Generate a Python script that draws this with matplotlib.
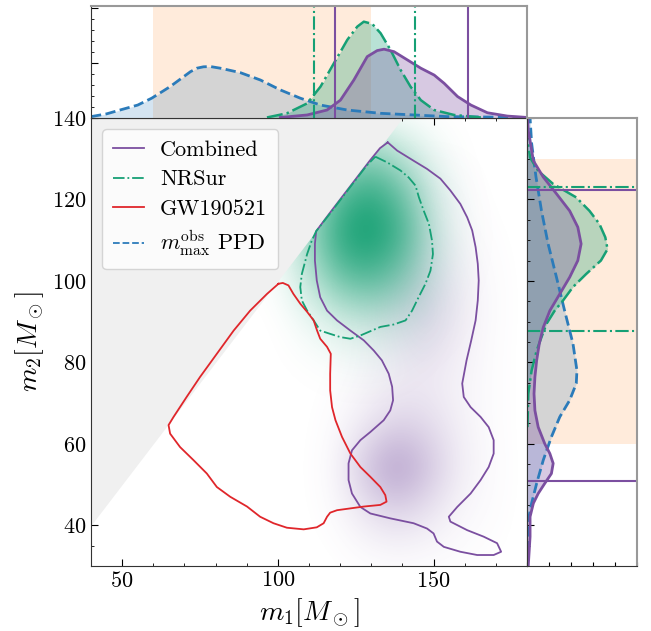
import numpy as np
import matplotlib.pyplot as plt
from matplotlib.colors import LinearSegmentedColormap, to_rgba
from matplotlib.ticker import MultipleLocator

plt.rcParams['font.family'] = 'serif'
plt.rcParams['font.serif'] = ['cmr10']
plt.rcParams['mathtext.fontset'] = 'cm'
plt.rcParams['axes.formatter.use_mathtext'] = True
plt.rcParams['axes.unicode_minus'] = False

purple = '#7b4fa0'
green = '#16a075'
green_core = '#0a9c6c'
red = '#e0262b'
blue = '#2b7bba'
orange = '#ff7f0e'

# 90% contours (m1, m2)
comb_m1 = [135.3, 138.3, 143.6, 147.9, 152.2, 155.4, 158.6, 160.8, 162.4, 163.5, 164.2, 164.5,
           164.2, 163.5, 162.1, 160.6, 159.2, 159.7, 161.9, 165.1, 167.7, 169.3, 169.3, 167.7,
           165.1, 161.9, 157.6, 154.9, 155.4, 160.8, 166.1, 170.4, 171.7, 169.3, 164.0, 158.6,
           153.3, 151.1, 150.0, 147.9, 143.6, 136.1, 129.7, 126.5, 123.8, 122.7, 122.7, 123.8,
           126.5, 129.7, 134.0, 136.1, 137.0, 136.7, 135.6, 133.4, 130.8, 127.6, 123.3, 119.0,
           115.8, 113.6, 112.5, 111.9, 111.9, 112.3, 116.6, 121.0, 125.3, 129.5, 132.8, 135.3]
comb_m2 = [134.0, 132.0, 129.5, 127.5, 125.1, 122.2, 118.9, 115.6, 112.4, 108.3, 104.2, 100.1,
           95.2, 90.3, 85.4, 80.5, 74.8, 71.5, 69.0, 66.6, 64.1, 60.9, 57.6, 54.3,
           51.1, 47.8, 44.5, 42.1, 40.9, 38.8, 37.2, 35.6, 33.5, 32.7, 32.7, 33.5,
           34.7, 36.0, 38.0, 39.2, 40.5, 41.7, 42.9, 44.5, 47.8, 51.1, 55.2, 58.4,
           60.9, 62.9, 65.8, 68.2, 70.7, 74.0, 77.2, 80.5, 82.9, 85.4, 87.8, 90.3,
           92.7, 96.0, 100.1, 105.0, 109.1, 112.2, 116.6, 121.0, 125.3, 129.5, 132.6, 134.0]

nrsur_m1 = [131.3, 135.1, 139.4, 142.0, 144.2, 145.3, 146.8, 148.5, 149.5, 149.8, 149.0, 147.4,
            145.2, 143.1, 141.0, 137.2, 132.9, 126.5, 123.3, 120.1, 116.8, 113.6, 111.5, 109.4,
            107.7, 107.2, 107.7, 109.4, 110.9, 112.3, 116.5, 120.5, 124.5, 128.5, 131.3]
nrsur_m2 = [130.5, 129.1, 127.1, 125.4, 123.4, 120.5, 117.3, 114.0, 109.9, 106.6, 102.5, 99.3,
            96.0, 92.7, 90.3, 89.3, 88.7, 86.6, 85.8, 86.2, 87.0, 87.8, 90.3, 92.7,
            95.2, 98.5, 101.7, 106.6, 109.9, 112.2, 116.3, 120.3, 124.3, 128.3, 130.5]

gw_m1 = [100.2, 101.6, 103.4, 105.0, 107.2, 109.4, 111.5, 112.6, 113.6, 115.8, 117.0, 116.8,
         116.8, 117.4, 118.5, 120.6, 123.3, 126.5, 129.7, 132.9, 134.5, 134.9, 132.9, 127.6,
         119.0, 116.8, 115.8, 114.7, 112.5, 108.3, 102.9, 98.6, 94.3, 90.1, 84.7, 80.4,
         77.2, 72.9, 68.6, 65.4, 64.9, 66.5, 70.7, 75.0, 80.4, 85.8, 91.1, 96.5, 100.2]
gw_m2 = [99.3, 99.5, 98.9, 96.8, 94.4, 92.4, 90.3, 87.8, 85.8, 83.8, 82.1, 77.2,
         73.1, 69.0, 65.8, 61.7, 57.6, 54.3, 51.9, 49.4, 47.4, 45.8, 45.0, 44.6,
         43.7, 43.1, 42.1, 40.5, 39.5, 39.0, 39.4, 40.5, 42.1, 44.6, 47.0, 49.4,
         52.7, 56.0, 59.2, 62.5, 64.6, 66.6, 71.5, 76.4, 82.1, 87.8, 92.7, 96.8, 99.3]

# 2D density intensities (0-1) on coarse grids, rows = m2 (bottom to top)
nrsur_grid_m1 = [90, 100, 110, 120, 130, 140, 150, 160, 170]
nrsur_grid_m2 = [71, 81, 91, 101, 111, 121, 131, 141]
nrsur_density = [
    [0.00, 0.00, 0.00, 0.00, 0.00, 0.00, 0.00, 0.00, 0.00],
    [0.00, 0.00, 0.01, 0.03, 0.04, 0.02, 0.00, 0.00, 0.00],
    [0.00, 0.00, 0.08, 0.20, 0.24, 0.15, 0.04, 0.00, 0.00],
    [0.00, 0.03, 0.26, 0.62, 0.72, 0.48, 0.12, 0.01, 0.00],
    [0.00, 0.04, 0.40, 0.90, 1.00, 0.76, 0.20, 0.02, 0.00],
    [0.00, 0.03, 0.28, 0.70, 0.88, 0.60, 0.16, 0.01, 0.00],
    [0.00, 0.00, 0.06, 0.30, 0.45, 0.26, 0.06, 0.00, 0.00],
    [0.00, 0.00, 0.00, 0.00, 0.00, 0.00, 0.00, 0.00, 0.00],
]
comb_grid_m1 = [108, 118, 128, 138, 148, 158, 168, 178]
comb_grid_m2 = [24, 34, 44, 54, 64, 74, 84, 94, 104, 114, 124, 134]
comb_density = [
    [0.00, 0.00, 0.00, 0.00, 0.00, 0.00, 0.00, 0.00],
    [0.00, 0.00, 0.04, 0.07, 0.05, 0.03, 0.01, 0.00],
    [0.00, 0.03, 0.22, 0.38, 0.25, 0.08, 0.03, 0.00],
    [0.00, 0.05, 0.48, 0.85, 0.52, 0.16, 0.04, 0.00],
    [0.00, 0.03, 0.20, 0.40, 0.33, 0.13, 0.03, 0.00],
    [0.00, 0.01, 0.07, 0.16, 0.18, 0.10, 0.03, 0.00],
    [0.00, 0.00, 0.05, 0.18, 0.28, 0.15, 0.03, 0.00],
    [0.00, 0.00, 0.06, 0.23, 0.36, 0.19, 0.04, 0.00],
    [0.00, 0.00, 0.05, 0.16, 0.24, 0.13, 0.03, 0.00],
    [0.00, 0.00, 0.04, 0.09, 0.10, 0.06, 0.01, 0.00],
    [0.00, 0.00, 0.02, 0.05, 0.06, 0.04, 0.00, 0.00],
    [0.00, 0.00, 0.00, 0.00, 0.00, 0.00, 0.00, 0.00],
]

# marginal densities
ppd_m1 = [40.0, 45.0, 49.3, 55.0, 59.5, 65.4, 71.9, 74.0, 76.1, 78.3, 81.5, 87.9, 94.4, 100.8,
          107.2, 113.7, 122.3, 133.0, 143.7, 154.4, 180.0]
ppd_p1 = [0.0005, 0.0015, 0.0029, 0.0047, 0.0072, 0.0114, 0.0168, 0.0181, 0.0186, 0.0187, 0.0181,
          0.0165, 0.0138, 0.0102, 0.0072, 0.0047, 0.0029, 0.0017, 0.0011, 0.0005, 0.0002]
nrsur_m1_x = [96.5, 102.9, 109.4, 113.7, 118.0, 122.3, 125.5, 127.6, 130.3, 133.0, 136.2, 139.4,
              142.6, 145.9, 150.2, 156.6, 165.2]
nrsur_p1 = [0.0002, 0.0017, 0.0053, 0.0114, 0.0199, 0.0284, 0.0332, 0.0350, 0.0342, 0.0308, 0.0247,
            0.0175, 0.0114, 0.0065, 0.0029, 0.0011, 0.0002]
comb_m1_x = [100.8, 109.4, 115.8, 120.1, 124.4, 128.7, 131.9, 134.1, 137.3, 141.6, 145.9, 150.2,
             153.4, 157.7, 162.0, 167.3, 173.7, 180.0]
comb_p1 = [0.0002, 0.0011, 0.0029, 0.0065, 0.0138, 0.0223, 0.0245, 0.0250, 0.0241, 0.0211, 0.0181,
           0.0156, 0.0126, 0.0078, 0.0047, 0.0019, 0.0007, 0.0002]

nrsur_m2_y = [64.1, 72.3, 78.0, 82.9, 86.2, 89.5, 92.7, 95.2, 98.5, 101.7, 105.0, 107.8, 110.7,
              114.0, 117.2, 120.5, 123.8, 127.0, 130.3, 135.0]
nrsur_p2 = [0.0002, 0.0006, 0.0021, 0.0044, 0.0066, 0.0089, 0.0126, 0.0164, 0.0209, 0.0269, 0.0336,
            0.0366, 0.0356, 0.0329, 0.0284, 0.0224, 0.0119, 0.0051, 0.0014, 0.0002]
comb_m2_y = [30.2, 37.2, 42.1, 45.4, 47.8, 50.3, 52.7, 55.2, 57.6, 60.0, 64.1, 68.2, 72.3, 76.4,
             80.5, 84.6, 88.6, 92.7, 96.8, 100.9, 105.0, 109.1, 113.2, 117.2, 121.4, 125.5,
             129.5, 136.9, 140.0]
comb_p2 = [0.0006, 0.0014, 0.0014, 0.0029, 0.0051, 0.0081, 0.0111, 0.0119, 0.0104, 0.0081, 0.0051,
           0.0036, 0.0032, 0.0036, 0.0044, 0.0056, 0.0074, 0.0104, 0.0149, 0.0194, 0.0231, 0.0246,
           0.0231, 0.0194, 0.0134, 0.0074, 0.0029, 0.0006, 0.0003]
ppd_m2_y = [30.0, 41.3, 45.4, 50.3, 56.0, 61.7, 66.6, 70.7, 74.8, 78.0, 84.6, 92.7, 100.9, 109.1,
            117.2, 125.5, 133.8, 140.0]
ppd_p2 = [0.0001, 0.0006, 0.0021, 0.0044, 0.0074, 0.0111, 0.0149, 0.0194, 0.0224, 0.0227, 0.0209,
          0.0171, 0.0134, 0.0096, 0.0066, 0.0041, 0.0021, 0.0014]

# 90% credible bounds and observed range
nrsur_m1_ci = [111.5, 144.0]
comb_m1_ci = [118.5, 161.0]
nrsur_m2_ci = [87.8, 123.1]
comb_m2_ci = [50.8, 122.4]
band_lo, band_hi = 60, 130

fig = plt.figure(figsize=(6.51, 6.31), dpi=100)
ax = fig.add_axes([0.1398, 0.1030, 0.6697, 0.7100])
ax_top = fig.add_axes([0.1398, 0.8130, 0.6697, 0.1775], sharex=ax)
ax_right = fig.add_axes([0.8095, 0.1030, 0.1690, 0.7100], sharey=ax)

# main panel
green_cmap = LinearSegmentedColormap.from_list('g', [to_rgba(green_core, 0), to_rgba(green_core, 1)])
purple_cmap = LinearSegmentedColormap.from_list('p', [to_rgba('#8a68ad', 0), to_rgba('#8a68ad', 0.8)])
ax.imshow(np.array(comb_density), origin='lower', cmap=purple_cmap, vmin=0, vmax=1,
          extent=[comb_grid_m1[0] - 5, comb_grid_m1[-1] + 5, comb_grid_m2[0] - 5, comb_grid_m2[-1] + 5],
          interpolation='bicubic', aspect='auto', zorder=1)
ax.imshow(np.array(nrsur_density), origin='lower', cmap=green_cmap, vmin=0, vmax=1,
          extent=[nrsur_grid_m1[0] - 5, nrsur_grid_m1[-1] + 5, nrsur_grid_m2[0] - 5, nrsur_grid_m2[-1] + 5],
          interpolation='bicubic', aspect='auto', zorder=1)
ax.fill_between([40, 140], [40, 140], [140, 140], color='#f0f0f0', lw=0, zorder=2)

ax.plot(comb_m1, comb_m2, color=purple, lw=1.3, zorder=3, label='Combined')
ax.plot(nrsur_m1, nrsur_m2, color=green, lw=1.3, ls='-.', zorder=3, label='NRSur')
ax.plot(gw_m1, gw_m2, color=red, lw=1.3, zorder=3, label='GW190521')
ax.plot([], [], color=blue, lw=1.3, ls='--', label=r'$m_{\rm max}^{\rm obs}$ PPD')

ax.set_xlim(40, 180)
ax.set_ylim(30, 140)
ax.xaxis.set_major_locator(MultipleLocator(50))
ax.xaxis.set_minor_locator(MultipleLocator(10))
ax.yaxis.set_major_locator(MultipleLocator(20))
ax.yaxis.set_minor_locator(MultipleLocator(5))
ax.tick_params(which='both', direction='in', top=True, labelsize=16)
ax.tick_params(which='major', length=5)
ax.tick_params(which='minor', length=2.5)
ax.set_xlabel(r'$m_1[M_\odot]$', fontsize=20)
ax.set_ylabel(r'$m_2[M_\odot]$', fontsize=20)
for s in ax.spines.values():
    s.set_color('0.2')
leg = ax.legend(loc='upper left', fontsize=16, handlelength=1.4, handletextpad=0.7,
                borderpad=0.5, labelspacing=0.45, bbox_to_anchor=(0.0, 1.0))
leg.set_zorder(5)

# top marginal (m1)
ax_top.axvspan(band_lo, band_hi, color=orange, alpha=0.15, lw=0)
ax_top.fill_between(ppd_m1, ppd_p1, color=blue, alpha=0.2, lw=0)
ax_top.plot(ppd_m1, ppd_p1, color=blue, ls='--', lw=2)
ax_top.fill_between(nrsur_m1_x, nrsur_p1, color=green, alpha=0.3, lw=0)
ax_top.plot(nrsur_m1_x, nrsur_p1, color=green, ls='-.', lw=1.8)
ax_top.fill_between(comb_m1_x, comb_p1, color=purple, alpha=0.3, lw=0)
ax_top.plot(comb_m1_x, comb_p1, color=purple, lw=2)
for v in nrsur_m1_ci:
    ax_top.axvline(v, color=green, ls='-.', lw=1.5)
for v in comb_m1_ci:
    ax_top.axvline(v, color=purple, lw=1.5)
ax_top.set_ylim(0, 0.0407)
ax_top.yaxis.set_major_locator(MultipleLocator(0.02))
ax_top.yaxis.set_minor_locator(MultipleLocator(0.004))
ax_top.tick_params(which='both', direction='in', labelbottom=False, labelleft=False, bottom=False)
ax_top.tick_params(which='major', length=5)
ax_top.tick_params(which='minor', length=2.5)

# right marginal (m2)
ax_right.axhspan(band_lo, band_hi, color=orange, alpha=0.15, lw=0)
ax_right.fill_betweenx(ppd_m2_y, ppd_p2, color=blue, alpha=0.2, lw=0)
ax_right.plot(ppd_p2, ppd_m2_y, color=blue, ls='--', lw=2)
ax_right.fill_betweenx(nrsur_m2_y, nrsur_p2, color=green, alpha=0.3, lw=0)
ax_right.plot(nrsur_p2, nrsur_m2_y, color=green, ls='-.', lw=1.8)
ax_right.fill_betweenx(comb_m2_y, comb_p2, color=purple, alpha=0.3, lw=0)
ax_right.plot(comb_p2, comb_m2_y, color=purple, lw=2)
for v in nrsur_m2_ci:
    ax_right.axhline(v, color=green, ls='-.', lw=1.5)
for v in comb_m2_ci:
    ax_right.axhline(v, color=purple, lw=1.5)
ax_right.set_xlim(0, 0.05)
ax_right.xaxis.set_major_locator(MultipleLocator(0.01))
ax_right.tick_params(which='both', direction='in', labelbottom=False, labelleft=False)
ax_right.tick_params(which='major', length=3)
ax_right.tick_params(axis='y', which='major', length=5)
ax_right.tick_params(axis='y', which='minor', length=2.5)

for a in (ax_top, ax_right):
    a.spines['top'].set_color('0.6')
    a.spines['right'].set_color('0.6')
    a.spines['top'].set_linewidth(1.5)
    a.spines['right'].set_linewidth(1.5)
    a.spines['left'].set_color('0.2')
    a.spines['bottom'].set_color('0.2')

fig.savefig('out.png', dpi=100)
